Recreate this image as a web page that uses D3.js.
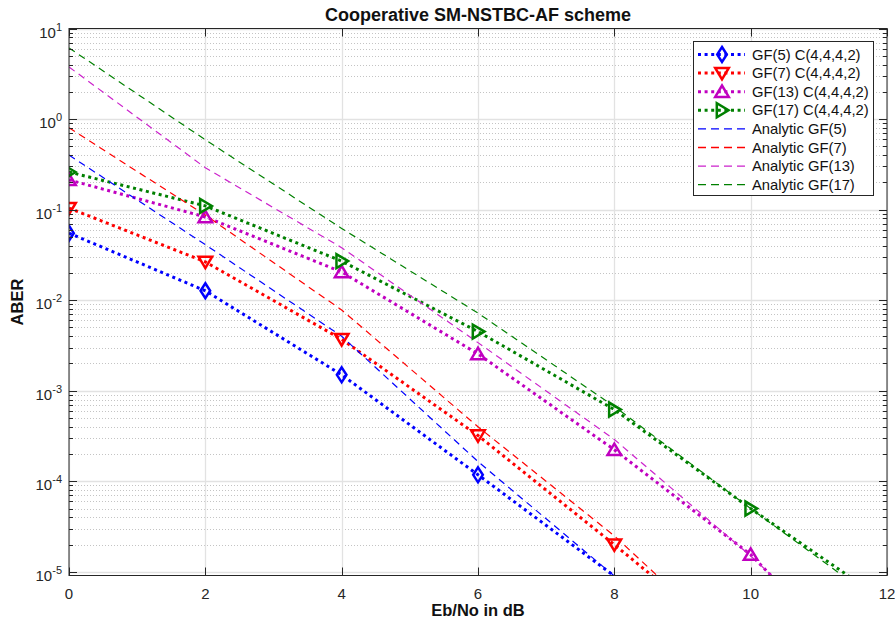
<!DOCTYPE html>
<html>
<head>
<meta charset="utf-8">
<script src="https://cdn.jsdelivr.net/npm/d3@7"></script>
<style>
  body { margin: 0; background: #fff; }
  svg { display: block; font-family: "Liberation Sans", Arial, sans-serif; }
</style>
</head>
<body>
<div id="chart"></div>
<script>
(function(d3) {
    "use strict";

    // Eb/No points (dB)
    var ebno = [0, 2, 4, 6, 8, 10, 12];

    // simulated ABER
    var gf5Sim = [0.055, 0.0127, 0.0015, 1.18e-4, 9.0e-6];
    var gf7Sim = [0.104, 0.0265, 0.0037, 3.2e-4, 2.0e-5, 1.15e-6];
    var gf13Sim = [0.213, 0.083, 0.0205, 0.00255, 2.23e-4, 1.55e-5, 4.5e-7];
    var gf17Sim = [0.26, 0.11, 0.027, 0.0045, 6.2e-4, 5.0e-5, 4.6e-6];

    // analytic ABER
    var gf5An = [0.40, 0.041, 0.0040, 1.65e-4, 9.0e-6, 4.0e-7];
    var gf7An = [0.80, 0.087, 0.0078, 4.0e-4, 2.5e-5, 1.0e-6];
    var gf13An = [3.76, 0.29, 0.038, 0.0034, 2.9e-4, 1.5e-5, 6.0e-7];
    var gf17An = [6.1, 0.59, 0.062, 0.0072, 6.7e-4, 5.0e-5, 4.0e-6];

    var seriesNames = ["GF(5) C(4,4,4,2)", "GF(7) C(4,4,4,2)", "GF(13) C(4,4,4,2)", "GF(17) C(4,4,4,2)",
        "Analytic GF(5)", "Analytic GF(7)", "Analytic GF(13)", "Analytic GF(17)"];
    var xTicks = [0, 2, 4, 6, 8, 10, 12];
    var yDecades = [-5, -4, -3, -2, -1, 0, 1];

    var width = 895, height = 628;
    var plot = { left: 69, right: 887, top: 28.5, bottom: 575.5 };

    var colors = { blue: "#0000ff", red: "#ff0000", mag: "#c000c0", green: "#008000" };

    var series = [
        { name: seriesNames[0], values: gf5Sim, color: colors.blue, style: "dot", marker: "diamond" },
        { name: seriesNames[1], values: gf7Sim, color: colors.red, style: "dot", marker: "down" },
        { name: seriesNames[2], values: gf13Sim, color: colors.mag, style: "dot", marker: "up" },
        { name: seriesNames[3], values: gf17Sim, color: colors.green, style: "dot", marker: "right" },
        { name: seriesNames[4], values: gf5An, color: colors.blue, style: "dash" },
        { name: seriesNames[5], values: gf7An, color: colors.red, style: "dash" },
        { name: seriesNames[6], values: gf13An, color: "#cc22cc", style: "dash" },
        { name: seriesNames[7], values: gf17An, color: colors.green, style: "dash" }
    ];

    var markerPaths = {
        diamond: "M0,-7.5L4.8,0L0,7.5L-4.8,0Z",
        down: "M-6.8,-5.2L6.8,-5.2L0,6.2Z",
        up: "M-6.8,5.2L6.8,5.2L0,-6.2Z",
        right: "M-5.2,-7L-5.2,7L6.5,0Z"
    };

    var x = d3.scaleLinear().domain([0, 12]).range([plot.left, plot.right]);
    var y = d3.scaleLog().domain([Math.pow(10, -5.04), 10]).range([plot.bottom, plot.top]);

    var svg = d3.select("#chart").append("svg")
        .attr("width", width)
        .attr("height", height);

    svg.append("rect").attr("width", width).attr("height", height).attr("fill", "#fff");

    svg.append("clipPath").attr("id", "clip")
        .append("rect")
        .attr("x", plot.left).attr("y", plot.top)
        .attr("width", plot.right - plot.left).attr("height", plot.bottom - plot.top);

    var grid = svg.append("g");

    // minor y grid (dotted)
    var minorVals = [];
    yDecades.forEach(function(p) {
        for (var k = 2; k <= 9; k++) {
            var v = k * Math.pow(10, p);
            if (v > y.domain()[0] && v < y.domain()[1]) minorVals.push(v);
        }
    });
    grid.selectAll(".minor").data(minorVals).enter().append("line")
        .attr("x1", plot.left).attr("x2", plot.right)
        .attr("y1", function(d) { return Math.round(y(d)) + 0.5; })
        .attr("y2", function(d) { return Math.round(y(d)) + 0.5; })
        .attr("stroke", "#c4c4c4")
        .attr("stroke-width", 1)
        .attr("stroke-dasharray", "1,2");

    // major grid
    grid.selectAll(".ymaj").data(yDecades).enter().append("line")
        .attr("x1", plot.left).attr("x2", plot.right)
        .attr("y1", function(d) { return Math.round(y(Math.pow(10, d))) + 0.5; })
        .attr("y2", function(d) { return Math.round(y(Math.pow(10, d))) + 0.5; })
        .attr("stroke", "#e2e2e2")
        .attr("stroke-width", 1.3);

    grid.selectAll(".xmaj").data(xTicks).enter().append("line")
        .attr("y1", plot.top).attr("y2", plot.bottom)
        .attr("x1", function(d) { return Math.round(x(d)) + 0.5; })
        .attr("x2", function(d) { return Math.round(x(d)) + 0.5; })
        .attr("stroke", "#e2e2e2")
        .attr("stroke-width", 1.3);

    var line = d3.line()
        .x(function(d, i) { return x(ebno[i]); })
        .y(function(d) { return y(d); });

    var plotArea = svg.append("g").attr("clip-path", "url(#clip)");

    series.forEach(function(s) {
        plotArea.append("path")
            .attr("d", line(s.values))
            .attr("fill", "none")
            .attr("stroke", s.color)
            .attr("stroke-width", s.style === "dot" ? 3 : 1.2)
            .attr("stroke-dasharray", s.style === "dot" ? "3,3.6" : "7,5");
    });

    // markers only for points inside the y limits (as MATLAB does)
    series.filter(function(s) { return s.marker; }).forEach(function(s) {
        var pts = s.values.map(function(v, i) { return { x: ebno[i], v: v }; })
            .filter(function(p) { return p.v >= y.domain()[0]; });
        plotArea.selectAll(null).data(pts).enter().append("path")
            .attr("d", markerPaths[s.marker])
            .attr("transform", function(p) { return "translate(" + x(p.x) + "," + y(p.v) + ")"; })
            .attr("fill", "none")
            .attr("stroke", s.color)
            .attr("stroke-width", 2.5);
    });

    // axes box and ticks
    var axisColor = "#262626";
    var axes = svg.append("g").attr("stroke", axisColor).attr("stroke-width", 1);

    axes.append("rect")
        .attr("x", plot.left).attr("y", plot.top)
        .attr("width", plot.right - plot.left).attr("height", plot.bottom - plot.top)
        .attr("fill", "none");

    xTicks.forEach(function(t) {
        var px = Math.round(x(t)) + 0.5;
        axes.append("line").attr("x1", px).attr("x2", px).attr("y1", plot.bottom).attr("y2", plot.bottom - 8);
        axes.append("line").attr("x1", px).attr("x2", px).attr("y1", plot.top).attr("y2", plot.top + 8);
    });

    yDecades.forEach(function(p) {
        var py = Math.round(y(Math.pow(10, p))) + 0.5;
        axes.append("line").attr("x1", plot.left).attr("x2", plot.left + 8).attr("y1", py).attr("y2", py);
        axes.append("line").attr("x1", plot.right).attr("x2", plot.right - 8).attr("y1", py).attr("y2", py);
    });
    minorVals.forEach(function(v) {
        var py = Math.round(y(v)) + 0.5;
        axes.append("line").attr("x1", plot.left).attr("x2", plot.left + 4).attr("y1", py).attr("y2", py);
        axes.append("line").attr("x1", plot.right).attr("x2", plot.right - 4).attr("y1", py).attr("y2", py);
    });

    // tick labels
    svg.append("g").selectAll("text").data(xTicks).enter().append("text")
        .attr("x", function(d) { return x(d); })
        .attr("y", 599)
        .attr("text-anchor", "middle")
        .attr("font-size", 15)
        .attr("fill", axisColor)
        .text(function(d) { return d; });

    var yl = svg.append("g").selectAll("text").data(yDecades).enter().append("text")
        .attr("x", 62)
        .attr("y", function(d) { return y(Math.pow(10, d)) + 9; })
        .attr("text-anchor", "end")
        .attr("font-size", 15)
        .attr("fill", axisColor);
    yl.append("tspan").text("10");
    yl.append("tspan").attr("dy", -7).attr("font-size", 11).text(function(d) { return d; });

    // title and labels
    svg.append("text")
        .attr("x", (plot.left + plot.right) / 2).attr("y", 21)
        .attr("text-anchor", "middle")
        .attr("font-size", 18).attr("font-weight", "bold")
        .attr("fill", "#111")
        .text("Cooperative SM-NSTBC-AF scheme");

    svg.append("text")
        .attr("x", (plot.left + plot.right) / 2).attr("y", 616)
        .attr("text-anchor", "middle")
        .attr("font-size", 16.5).attr("font-weight", "bold")
        .attr("fill", "#111")
        .text("Eb/No in dB");

    svg.append("text")
        .attr("transform", "translate(23," + (plot.top + plot.bottom) / 2 + ") rotate(-90)")
        .attr("text-anchor", "middle")
        .attr("font-size", 16.5).attr("font-weight", "bold")
        .attr("fill", "#111")
        .text("ABER");

    // legend
    var legend = svg.append("g");
    legend.append("rect")
        .attr("x", 693.5).attr("y", 41.5)
        .attr("width", 180).attr("height", 154)
        .attr("fill", "#fff")
        .attr("stroke", axisColor)
        .attr("stroke-width", 1);

    series.forEach(function(s, i) {
        var ly = 54.5 + i * 18.6;
        legend.append("line")
            .attr("x1", 698).attr("x2", 745)
            .attr("y1", ly).attr("y2", ly)
            .attr("stroke", s.color)
            .attr("stroke-width", s.style === "dot" ? 3 : 1.3)
            .attr("stroke-dasharray", s.style === "dot" ? "3,3.6" : "8,5");
        if (s.marker) {
            legend.append("path")
                .attr("d", markerPaths[s.marker])
                .attr("transform", "translate(722," + ly + ")")
                .attr("fill", "none")
                .attr("stroke", s.color)
                .attr("stroke-width", 2.5);
        }
        legend.append("text")
            .attr("x", 752).attr("y", ly + 5)
            .attr("font-size", 14.8)
            .attr("fill", "#111")
            .text(s.name);
    });

})(d3);
</script>
</body>
</html>
